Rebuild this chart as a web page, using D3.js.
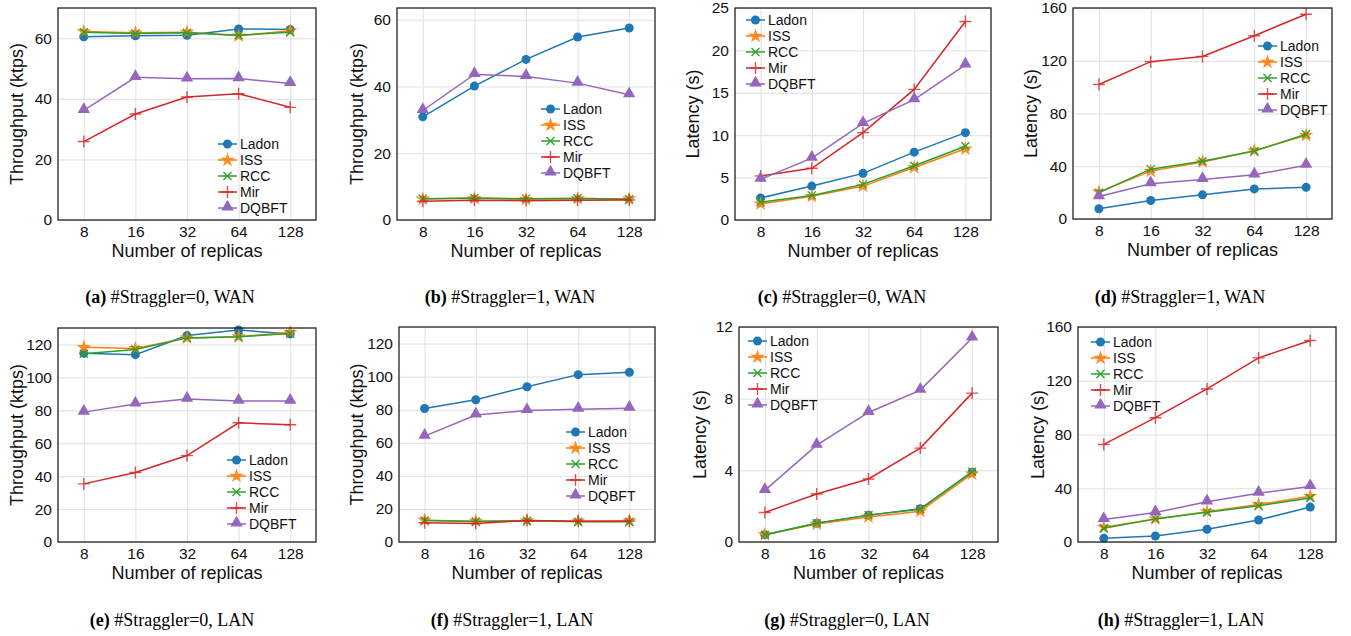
<html>
<head>
<script src="https://d3js.org/d3.v7.min.js"></script>
<style>
  body { margin: 0; background: #fff; }
  .tick text, .lbl, .leg { font-family: "Liberation Sans", Arial, sans-serif; fill: #111; }
  .cap { font-family: "Liberation Serif", "Times New Roman", serif; font-size: 18px; fill: #000; }
  .grid line { stroke: #e0e0e0; stroke-width: 1; }
</style>
</head>
<body>
<svg id="fig" width="1351" height="636"></svg>
<script>
const replicas = [8, 16, 32, 64, 128];
const seriesNames = ["Ladon", "ISS", "RCC", "Mir", "DQBFT"];
const seriesColors = ["#1f77b4", "#ff7f0e", "#2ca02c", "#d62728", "#9467bd"];

// values per panel, rows follow seriesNames order
const tputWan0 = [
  [60.5, 60.8, 61.0, 63.1, 62.9],
  [62.2, 61.8, 62.0, 60.8, 62.5],
  [62.0, 61.6, 61.8, 61.0, 62.0],
  [25.9, 35.0, 40.6, 41.7, 37.2],
  [36.2, 47.1, 46.6, 46.7, 45.1]
];
const tputWan1 = [
  [30.9, 40.1, 48.1, 54.8, 57.5],
  [6.3, 6.5, 6.2, 6.4, 6.3],
  [6.4, 6.6, 6.4, 6.5, 6.2],
  [5.6, 5.9, 5.8, 5.9, 6.0],
  [32.8, 43.6, 43.0, 41.0, 37.5]
];
const latWan0 = [
  [2.6, 4.0, 5.5, 8.0, 10.3],
  [1.9, 2.8, 4.0, 6.2, 8.4],
  [2.1, 2.9, 4.2, 6.4, 8.7],
  [5.2, 6.1, 10.3, 15.4, 23.4],
  [4.8, 7.3, 11.4, 14.2, 18.3]
];
const latWan1 = [
  [7.8, 14.0, 18.3, 22.8, 24.0],
  [20.5, 36.3, 43.3, 51.8, 63.5],
  [20.0, 37.8, 43.8, 51.5, 64.3],
  [102, 119.3, 123.3, 139, 155.3],
  [17.0, 26.8, 30.0, 33.5, 40.8]
];
const tputLan0 = [
  [114.6, 113.8, 125.4, 128.8, 126.4],
  [118.3, 117.6, 124.0, 124.7, 127.4],
  [114.4, 117.0, 124.0, 124.7, 126.6],
  [35.3, 42.2, 52.5, 72.4, 71.2],
  [78.9, 83.8, 86.8, 85.6, 85.6]
];
const tputLan1 = [
  [80.7, 86.0, 93.9, 101.2, 102.6],
  [13.2, 12.6, 13.0, 12.6, 12.8],
  [13.0, 12.4, 12.8, 12.2, 12.2],
  [11.6, 11.2, 13.0, 12.6, 12.6],
  [64.0, 76.8, 79.5, 80.3, 80.9]
];
const latLan0 = [
  [0.41, 1.05, 1.5, 1.85, 3.9],
  [0.41, 1.0, 1.4, 1.72, 3.8],
  [0.40, 1.05, 1.5, 1.83, 3.93],
  [1.65, 2.68, 3.52, 5.24, 8.31],
  [2.88, 5.41, 7.23, 8.48, 11.39]
];
const latLan1 = [
  [2.7, 4.5, 9.5, 16.4, 26.0],
  [11.0, 17.2, 22.6, 27.9, 34.0],
  [10.2, 17.2, 22.1, 26.9, 32.8],
  [72.6, 92.5, 113.9, 137, 150],
  [16.7, 21.9, 29.9, 36.3, 41.3]
];

const tputTicks60 = [0, 20, 40, 60];
const tputTicks120 = [0, 20, 40, 60, 80, 100, 120];
const latTicks25 = [0, 5, 10, 15, 20, 25];
const latTicks160 = [0, 40, 80, 120, 160];
const latTicks12 = [0, 4, 8, 12];

const captions = [
  ["(a)", "#Straggler=0, WAN"], ["(b)", "#Straggler=1, WAN"],
  ["(c)", "#Straggler=0, WAN"], ["(d)", "#Straggler=1, WAN"],
  ["(e)", "#Straggler=0, LAN"], ["(f)", "#Straggler=1, LAN"],
  ["(g)", "#Straggler=0, LAN"], ["(h)", "#Straggler=1, LAN"]
];

// layout: frame box, y max, legend anchor, ylabel x, caption centre
const panels = [
  {data: tputWan0, ticks: tputTicks60, ymax: 70, ylab: "Throughput (ktps)", l: 58, r: 316, t: 8, b: 220, lx: 218, ly: 144, yl: 17, cx: 170, cy: 303},
  {data: tputWan1, ticks: tputTicks60, ymax: 63.5, ylab: "Throughput (ktps)", l: 397, r: 655, t: 8, b: 220, lx: 541, ly: 109, yl: 357, cx: 510, cy: 303},
  {data: latWan0, ticks: latTicks25, ymax: 25, ylab: "Latency (s)", l: 735, r: 991, t: 8, b: 220, lx: 746, ly: 20, yl: 693, cx: 842, cy: 303},
  {data: latWan1, ticks: latTicks160, ymax: 160, ylab: "Latency (s)", l: 1073, r: 1332, t: 8, b: 219, lx: 1258, ly: 46, yl: 1031, cx: 1180, cy: 303},
  {data: tputLan0, ticks: tputTicks120, ymax: 130, ylab: "Throughput (ktps)", l: 58, r: 316, t: 328, b: 542, lx: 227, ly: 460, yl: 17, cx: 172, cy: 626},
  {data: tputLan1, ticks: tputTicks120, ymax: 130, ylab: "Throughput (ktps)", l: 399, r: 655, t: 327, b: 542, lx: 566, ly: 432, yl: 357, cx: 512, cy: 626},
  {data: latLan0, ticks: latTicks12, ymax: 12, ylab: "Latency (s)", l: 739, r: 998, t: 327, b: 542, lx: 748, ly: 341, yl: 700, cx: 847, cy: 626},
  {data: latLan1, ticks: latTicks160, ymax: 160, ylab: "Latency (s)", l: 1078, r: 1336, t: 327, b: 542, lx: 1091, ly: 342, yl: 1038, cx: 1181, cy: 626}
];

const svg = d3.select("#fig");

function drawMarker(g, k, color) {
  if (k === 0) {
    g.append("circle").attr("r", 4.5).attr("fill", color);
  } else if (k === 1) {
    g.append("path").attr("d", d3.symbol(d3.symbolStar, 66)()).attr("fill", color).attr("opacity", 0.9);
  } else if (k === 2) {
    g.append("path").attr("d", "M-4,-4L4,4M-4,4L4,-4").attr("stroke", color).attr("stroke-width", 1.3).attr("fill", "none");
  } else if (k === 3) {
    g.append("path").attr("d", "M-6,0L6,0M0,-6L0,6").attr("stroke", color).attr("stroke-width", 1.4).attr("fill", "none").attr("opacity", 0.8);
  } else {
    g.append("path").attr("d", d3.symbol(d3.symbolTriangle, 66)()).attr("fill", color).attr("transform", "translate(0,-1)");
  }
}

panels.forEach((p, pi) => {
  const x = d3.scalePoint().domain(replicas).range([p.l, p.r]).padding(0.5);
  const y = d3.scaleLinear().domain([0, p.ymax]).range([p.b, p.t]);
  const g = svg.append("g");

  // gridlines
  g.append("g").attr("class", "grid")
    .attr("transform", "translate(0," + p.b + ")")
    .call(d3.axisBottom(x).tickSize(-(p.b - p.t)).tickFormat(""))
    .call(s => s.select(".domain").remove());
  g.append("g").attr("class", "grid")
    .attr("transform", "translate(" + p.l + ",0)")
    .call(d3.axisLeft(y).tickValues(p.ticks).tickSize(-(p.r - p.l)).tickFormat(""))
    .call(s => s.select(".domain").remove());

  // tick labels
  const xa = g.append("g").attr("transform", "translate(0," + p.b + ")")
    .call(d3.axisBottom(x).tickSize(0).tickPadding(6));
  xa.select(".domain").remove();
  xa.selectAll("text").style("font-size", "15.5px");
  const ya = g.append("g").attr("transform", "translate(" + p.l + ",0)")
    .call(d3.axisLeft(y).tickValues(p.ticks).tickSize(0).tickPadding(6));
  ya.select(".domain").remove();
  ya.selectAll("text").style("font-size", "15.5px");

  // series
  const line = d3.line().x((d, i) => x(replicas[i])).y(d => y(d));
  p.data.forEach((vals, k) => {
    g.append("path").attr("d", line(vals)).attr("fill", "none")
      .attr("stroke", seriesColors[k]).attr("stroke-width", 1.5);
    vals.forEach((v, i) => {
      const m = g.append("g").attr("transform", "translate(" + x(replicas[i]) + "," + y(v) + ")");
      drawMarker(m, k, seriesColors[k]);
    });
  });

  // frame
  g.append("rect").attr("x", p.l).attr("y", p.t).attr("width", p.r - p.l).attr("height", p.b - p.t)
    .attr("fill", "none").attr("stroke", "#222").attr("stroke-width", 1.3);

  // legend
  seriesNames.forEach((name, k) => {
    const yy = p.ly + k * 16;
    g.append("line").attr("x1", p.lx).attr("x2", p.lx + 19).attr("y1", yy).attr("y2", yy)
      .attr("stroke", seriesColors[k]).attr("stroke-width", 1.5);
    const m = g.append("g").attr("transform", "translate(" + (p.lx + 9.5) + "," + yy + ")");
    drawMarker(m, k, seriesColors[k]);
    g.append("text").attr("class", "leg").attr("x", p.lx + 22).attr("y", yy + 5)
      .style("font-size", "14px").text(name);
  });

  // axis titles
  g.append("text").attr("class", "lbl").attr("text-anchor", "middle")
    .attr("x", (p.l + p.r) / 2).attr("y", p.b + 37).style("font-size", "18px")
    .text("Number of replicas");
  g.append("text").attr("class", "lbl").attr("text-anchor", "middle")
    .attr("transform", "translate(" + (p.yl + 6) + "," + ((p.t + p.b) / 2) + ") rotate(-90)")
    .style("font-size", "18px").text(p.ylab);

  // caption
  const c = svg.append("text").attr("class", "cap").attr("text-anchor", "middle")
    .attr("x", p.cx).attr("y", p.cy);
  c.append("tspan").style("font-weight", "bold").text(captions[pi][0]);
  c.append("tspan").text(" " + captions[pi][1]);
});
</script>
</body>
</html>
